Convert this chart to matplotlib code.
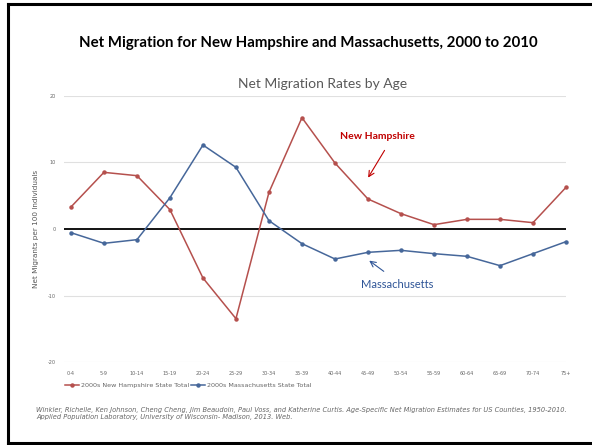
import matplotlib
matplotlib.use("Agg")
import matplotlib.pyplot as plt
from matplotlib.lines import Line2D

ages = ["0-4", "5-9", "10-14", "15-19", "20-24", "25-29", "30-34", "35-39",
        "40-44", "45-49", "50-54", "55-59", "60-64", "65-69", "70-74", "75+"]
nh = [3.3, 8.5, 8.0, 2.9, -7.35, -13.45, 5.5, 16.7,
      9.9, 4.5, 2.3, 0.65, 1.45, 1.45, 0.95, 6.25]
ma = [-0.55, -2.15, -1.6, 4.7, 12.6, 9.25, 1.25, -2.2,
      -4.5, -3.5, -3.2, -3.7, -4.1, -5.5, -3.7, -1.9]
yticks = [-20, -10, 0, 10, 20]

red = "#B5504D"
blue = "#46679A"

W, H = 592, 445
fig = plt.figure(figsize=(W / 100, H / 100), dpi=100)

# page border: top, left and bottom (right edge runs off the picture)
x0, y0, y1 = 8 / W, 1 - 4 / H, 1 - 443 / H
for xs, ys in [([x0, 1.02], [y0, y0]), ([x0, x0], [y0, y1]), ([x0, 1.02], [y1, y1])]:
    fig.add_artist(Line2D(xs, ys, transform=fig.transFigure, color="black", lw=2.2))

fig.text(308 / W, 1 - 43 / H, "Net Migration for New Hampshire and Massachusetts, 2000 to 2010",
         ha="center", va="center", fontsize=10.8, fontweight="bold", family="Lato")
fig.text(323 / W, 1 - 84 / H, "Net Migration Rates by Age",
         ha="center", va="center", fontsize=10, color="#595959", family="Lato")

ax = fig.add_axes([64 / W, 1 - 362.3 / H, (566 - 64) / W, (362.3 - 95.7) / H])
x = list(range(len(ages)))
ax.plot(x, nh, color=red, lw=1.1, marker="o", ms=2.2, clip_on=False, zorder=3,
        label="2000s New Hampshire State Total")
ax.plot(x, ma, color=blue, lw=1.1, marker="o", ms=2.2, clip_on=False, zorder=3,
        label="2000s Massachusetts State Total")
ax.axhline(0, color="black", lw=1.3, zorder=2)
for v in yticks:
    if v != 0:
        ax.axhline(v, color="#E0E0E0", lw=0.8, zorder=1)

ax.set_xlim(-0.21, 15.0)
ax.set_ylim(-20, 20)
ax.set_xticks(x)
ax.set_xticklabels(ages, fontsize=3.5, color="#666666")
ax.set_yticks(yticks)
ax.set_yticklabels([str(v) for v in yticks], fontsize=3.5, color="#666666")
ax.tick_params(length=0, pad=6)
for s in ax.spines.values():
    s.set_visible(False)
ax.set_ylabel("Net Migrants per 100 Individuals", fontsize=5.2, color="#555555", labelpad=6)

ax.legend(loc="upper left", bbox_to_anchor=(-0.005, -0.065), ncol=2, frameon=False,
          fontsize=4.6, labelcolor="#666666", handlelength=2.2, handletextpad=0.3,
          columnspacing=0.3, borderpad=0)

ax.annotate("", xy=(366.7 / W, 1 - 180 / H), xytext=(386 / W, 1 - 148 / H),
            xycoords="figure fraction", textcoords="figure fraction",
            arrowprops=dict(arrowstyle="->", color="#C00000", lw=0.8))
fig.text(377 / W, 1 - 136.5 / H, "New Hampshire", ha="center", va="center",
         fontsize=7.5, fontweight="bold", color="#C00000", family="Lato")
ax.annotate("", xy=(367 / W, 1 - 259 / H), xytext=(386 / W, 1 - 273 / H),
            xycoords="figure fraction", textcoords="figure fraction",
            arrowprops=dict(arrowstyle="->", color="#2F5597", lw=0.8))
fig.text(397 / W, 1 - 284.5 / H, "Massachusetts", ha="center", va="center",
         fontsize=8, color="#2F5597", family="Lato")

fig.text(36 / W, 1 - 413.5 / H,
         "Winkler, Richelle, Ken Johnson, Cheng Cheng, Jim Beaudoin, Paul Voss, and Katherine Curtis. "
         "Age-Specific Net Migration Estimates for US Counties, 1950-2010.\n"
         "Applied Population Laboratory, University of Wisconsin- Madison, 2013. Web.",
         ha="left", va="center", fontsize=4.75, style="italic", color="#666666", linespacing=1.3)

fig.savefig("out.png", dpi=100)
